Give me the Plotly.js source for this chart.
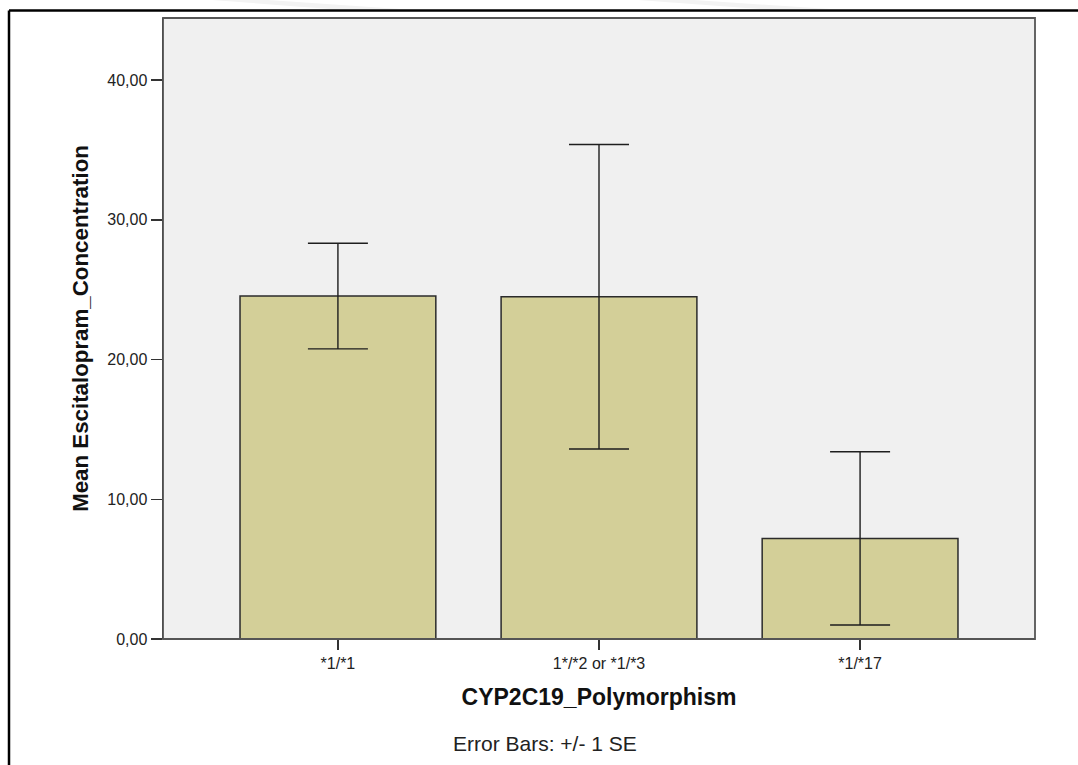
<!DOCTYPE html>
<html>
<head>
<meta charset="utf-8">
<script src="https://cdn.plot.ly/plotly-3.0.1.min.js"></script>
<style>
  html, body { margin: 0; padding: 0; background: #ffffff; }
  #chart { width: 1078px; height: 765px; }
</style>
</head>
<body>
<div id="chart"></div>
<script>
// Mean escitalopram concentration by CYP2C19 genotype, error bars = ±1 SE
const genotypes = ['*1/*1', '1*/*2 or *1/*3', '*1/*17'];
const meanConcentration = [24.55, 24.5, 7.2];
const standardError = [3.78, 10.9, 6.2];
const yTickValues = [0, 10, 20, 30, 40];

const fontFamily = '"Liberation Sans", Arial, sans-serif';

// figure size and plot-area margins, in pixels
const W = 1078, H = 765;
const M = { l: 163, r: 43, t: 18, b: 126 };
const plotW = W - M.l - M.r, plotH = H - M.t - M.b;
// pixel position on the page -> paper coordinates
const px = x => (x - M.l) / plotW;
const py = y => (H - M.b - y) / plotH;

function pagePath(points) {
  return 'M' + points.map(p => px(p[0]) + ',' + py(p[1])).join(' L') + ' Z';
}

const bars = {
  type: 'bar',
  x: genotypes,
  y: meanConcentration,
  width: 0.75,
  marker: {
    color: '#d3cf98',
    line: { color: '#2b2b2b', width: 1.5 }
  },
  error_y: {
    type: 'data',
    array: standardError,
    visible: true,
    color: '#1e1e1e',
    thickness: 1.4,
    width: 30
  },
  hoverinfo: 'x+y'
};

const layout = {
  width: W,
  height: H,
  margin: M,
  paper_bgcolor: '#ffffff',
  plot_bgcolor: '#f0f0f0',
  separators: ',.',
  showlegend: false,
  font: { family: fontFamily, color: '#222222' },
  xaxis: {
    type: 'category',
    range: [-0.67, 2.67],
    showgrid: false,
    zeroline: false,
    showline: false,
    ticks: 'outside',
    ticklen: 10,
    tickwidth: 1.5,
    tickcolor: '#333333',
    tickfont: { size: 16, color: '#222222' },
    title: {
      text: '<b>CYP2C19_Polymorphism</b>',
      font: { size: 23, color: '#111111' },
      standoff: 17
    },
    fixedrange: true
  },
  yaxis: {
    range: [0, 44.45],
    tickvals: yTickValues,
    tickformat: '.2f',
    showgrid: false,
    zeroline: false,
    showline: true,
    linecolor: '#111111',
    linewidth: 1.5,
    ticks: 'outside',
    ticklen: 11,
    tickwidth: 1.5,
    tickcolor: '#333333',
    tickfont: { size: 16, color: '#222222' },
    title: {
      text: '<b>Mean Escitalopram_Concentration</b>',
      font: { size: 22.3, color: '#111111' },
      standoff: 12
    },
    fixedrange: true
  },
  shapes: [
    // faint diagonal marks along the very top of the page
    { type: 'path', xref: 'paper', yref: 'paper', layer: 'below',
      path: pagePath([[212, 0], [268, 0], [400, 9], [330, 9]]),
      fillcolor: '#f3f3f3', line: { width: 0 } },
    { type: 'path', xref: 'paper', yref: 'paper', layer: 'below',
      path: pagePath([[638, 0], [694, 0], [830, 9], [760, 9]]),
      fillcolor: '#f3f3f3', line: { width: 0 } },
    // frame of the plotting area
    { type: 'rect', xref: 'paper', yref: 'paper', x0: 0, x1: 1, y0: 0, y1: 1,
      line: { color: '#555555', width: 1.8 }, fillcolor: 'rgba(0,0,0,0)', layer: 'above' },
    // outer figure border (top and left edges)
    { type: 'line', xref: 'paper', yref: 'paper',
      x0: px(9), x1: px(W), y0: py(10.5), y1: py(10.5),
      line: { color: '#000000', width: 2.5 } },
    { type: 'line', xref: 'paper', yref: 'paper',
      x0: px(9), x1: px(9), y0: py(10.5), y1: py(H),
      line: { color: '#000000', width: 2.5 } }
  ],
  annotations: [
    {
      text: 'Error Bars: +/- 1 SE',
      xref: 'paper', yref: 'paper',
      x: px(545), y: py(743),
      xanchor: 'center', yanchor: 'middle',
      showarrow: false,
      font: { size: 21, color: '#222222', family: fontFamily }
    }
  ]
};

Plotly.newPlot('chart', [bars], layout, { displayModeBar: false, staticPlot: true });
</script>
</body>
</html>
